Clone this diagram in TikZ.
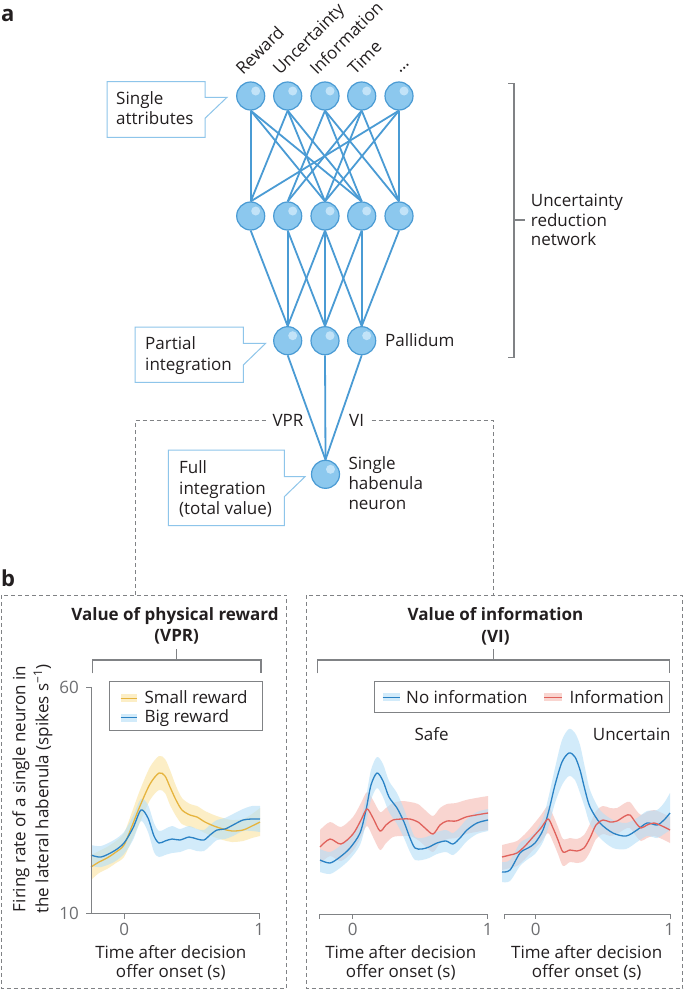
\documentclass[tikz,border=0pt]{standalone}
\usepackage{fontspec}
\setmainfont{Open Sans}
\definecolor{edgeblue}{HTML}{4A9BD4}
\definecolor{nodefill}{HTML}{8CC8EE}
\definecolor{nodeedge}{HTML}{4A9BD4}
\definecolor{nodehl}{HTML}{C2E3F8}
\definecolor{calloutc}{HTML}{8EC5EA}
\definecolor{txt}{HTML}{231F20}
\definecolor{graytxt}{HTML}{6D6E71}
\definecolor{bracketc}{HTML}{808285}
\definecolor{dashc}{HTML}{808285}
\definecolor{bluel}{HTML}{2A82C5}
\definecolor{blueband}{HTML}{B4DFF8}
\definecolor{yell}{HTML}{E6B43E}
\definecolor{yelband}{HTML}{FAE4A0}
\definecolor{redl}{HTML}{E0615B}
\definecolor{redband}{HTML}{F5B9B2}
\newcommand\myband[3]{\fill[#1, fill opacity=0.6] plot[smooth] coordinates {#2} -- plot[smooth] coordinates {#3} -- cycle;}
\begin{document}
\begin{tikzpicture}[x=1pt, y=-1pt,
  every node/.style={font=\fontsize{17}{20}\selectfont, text=txt, inner sep=0pt},
  neuron/.style={circle, minimum size=28pt, draw=nodeedge, line width=1.2pt, fill=nodefill,
    path picture={\fill[nodehl] ([xshift=5pt,yshift=5pt]path picture bounding box.center) circle (4.5pt);}},
  conn/.style={draw=edgeblue, line width=1.8pt},
  callbox/.style={draw=calloutc, line width=1pt, fill=white},
  dashline/.style={draw=dashc, line width=0.9pt, dash pattern=on 4pt off 3pt},
  brack/.style={draw=bracketc, line width=1.1pt},
  axisl/.style={draw=bracketc, line width=1pt},
  num/.style={text=graytxt},
  ttl/.style={font=\fontsize{17}{20}\selectfont\bfseries},
  lbl/.style={font=\fontsize{22}{24}\selectfont\bfseries}]
\useasboundingbox (0,0) rectangle (685,990);
\fill[white] (0,0) rectangle (685,990);

% panel labels
\node[lbl, anchor=base west] (pa) at (1,21.5) {a};
\node[lbl, anchor=base west] (pb) at (1,586) {b};

% neurons
\foreach \i/\x in {1/250.7,2/287.7,3/325,4/361.7,5/399}{
  \node[neuron] (t\i) at (\x,96) {};
  \node[neuron] (m\i) at (\x,216) {};
}
\node[neuron] (p1) at (287.7,340.7) {};
\node[neuron] (p2) at (325,340.7) {};
\node[neuron] (p3) at (361.7,340.7) {};
\node[neuron] (h) at (325.5,474.3) {};

% connections top -> middle
\foreach \a/\b in {1/1,1/3,1/4,2/1,2/3,2/4,3/2,3/4,3/5,4/2,4/3,4/5,5/1,5/3,5/5}{
  \draw[conn] (t\a.south) -- (m\b.north);
}
% middle -> pallidum
\foreach \a/\b in {1/1,2/1,2/2,3/1,3/2,3/3,4/2,4/3,5/3}{
  \draw[conn] (m\a.south) -- (p\b.north);
}
\foreach \a in {1,2,3}{ \draw[conn] (p\a.south) -- (h.north); }

% attribute labels
\node[anchor=base west, rotate=45] (lr) at (243,76) {Reward};
\node[anchor=base west, rotate=45] (lu) at (280,76) {Uncertainty};
\node[anchor=base west, rotate=45] (li) at (317,76) {Information};
\node[anchor=base west, rotate=45] (lt) at (355,76) {Time};
\node[anchor=base west, rotate=45] (ld) at (400,74) {...};

% callouts
\draw[callbox] (107,81.7) -- (205,81.7) -- (205,97.3) -- (227,97.3) -- (205,118.3) -- (205,137.3) -- (107,137.3) -- cycle;
\node[anchor=base west] (c1a) at (116,104.5) {Single};
\node[anchor=base west] (c1b) at (116,124.5) {attributes};

\draw[callbox] (135,327) -- (243.3,327) -- (243.3,343.3) -- (265.7,343.3) -- (243.3,365) -- (243.3,382.3) -- (135,382.3) -- cycle;
\node[anchor=base west] (c2a) at (145,349.5) {Partial};
\node[anchor=base west] (c2b) at (145,370) {integration};

\draw[callbox] (168.3,450) -- (284.3,450) -- (284.3,476.7) -- (305,476.7) -- (284.3,496.7) -- (284.3,525.7) -- (168.3,525.7) -- cycle;
\node[anchor=base west] (c3a) at (179,473.5) {Full};
\node[anchor=base west] (c3b) at (179,494) {integration};
\node[anchor=base west] (c3c) at (179,514) {(total value)};

\node[anchor=base west] (pal) at (385,346) {Pallidum};
\node[anchor=base west] (hab1) at (348.3,469) {Single};
\node[anchor=base west] (hab2) at (348.3,489.3) {habenula};
\node[anchor=base west] (hab3) at (348.3,509) {neuron};
\node[anchor=base west] (vpr) at (272.3,426) {VPR};
\node[anchor=base west] (vi) at (349,426) {VI};

% uncertainty reduction bracket
\draw[brack] (508.3,83.3) -- (514,83.3) -- (514,357.7) -- (508.3,357.7);
\draw[brack] (514,220) -- (525,220);
\node[anchor=base west] (ur1) at (530.7,206.7) {Uncertainty};
\node[anchor=base west] (ur2) at (530.7,226.7) {reduction};
\node[anchor=base west] (ur3) at (530.7,245.7) {network};

% dashed frames
\draw[dashline] (135,595) -- (135,420.7) -- (266.7,420.7);
\draw[dashline] (371.7,420.7) -- (493.3,420.7) -- (493.3,595);
\draw[dashline] (1.5,595) rectangle (286.5,988.5);
\draw[dashline] (306,595) rectangle (682.5,988.5);

% ---------- panel b left ----------
\node[ttl, anchor=base] (vt1) at (175,620) {Value of physical reward};
\node[ttl, anchor=base] (vt2) at (176.7,641.7) {(VPR)};
\draw[brack] (176.7,649.3) -- (176.7,660);
\draw[brack] (92.7,673.3) -- (92.7,660) -- (261,660) -- (261,673.3);

% legend left
\draw[axisl] (109.3,681.7) rectangle (262.7,730.7);
\fill[yelband, fill opacity=0.6] (120.7,694.3) rectangle (137.3,702.3);
\draw[yell, line width=1.3pt] (120.7,698.3) -- (137.3,698.3);
\fill[blueband, fill opacity=0.6] (120.7,713.5) rectangle (137.3,721.5);
\draw[bluel, line width=1.3pt] (120.7,717.5) -- (137.3,717.5);
\node[anchor=base west] (lg1) at (144.3,703.5) {Small reward};
\node[anchor=base west] (lg2) at (144.3,722) {Big reward};

% bands left
\myband{yelband}{(91,855) (99,851) (107,847) (116,841) (124,833) (132,812) (140,790) (150,767) (159,756) (165,759) (170,770) (176,786) (182,798) (190,804) (197,806) (205,811) (214,815) (223,818) (232,820) (243,819) (252,814) (260,808)}{(260,836) (252,838) (243,841) (232,842) (223,840) (214,837) (205,833) (197,829) (190,827) (182,824) (176,816) (170,805) (165,793) (159,790) (150,800) (140,822) (132,840) (124,857) (116,863) (107,869) (99,873) (91,880)}
\myband{blueband}{(91,845) (101,846) (114,840) (124,832) (133,816) (141,799) (148,805) (154,823) (159,831) (165,829) (172,826) (180,829) (189,826) (197,829) (204,830) (210,825) (217,820) (225,818) (233,814) (243,809) (252,806) (260,806)}{(260,832) (252,831) (243,831) (233,836) (225,839) (217,840) (210,846) (204,851) (197,851) (189,849) (180,852) (172,853) (165,855) (159,857) (154,852) (148,832) (141,821) (133,840) (124,854) (114,862) (101,867) (91,866)}
\draw[yell, line width=1.3pt] plot[smooth] coordinates {(91,867) (99,862) (107,858) (116,852) (124,845) (132,826) (140,806) (150,784) (159,773) (165,776) (170,787) (176,800) (182,810) (190,815) (197,817) (205,822) (214,826) (223,829) (232,831) (243,830) (252,826) (260,822)};
\draw[bluel, line width=1.3pt] plot[smooth] coordinates {(91,855) (101,857) (114,851) (124,843) (133,828) (141,810) (148,818) (154,836) (159,843) (165,841) (172,839) (180,840) (189,837) (197,839) (204,840) (210,835) (217,830) (225,829) (233,825) (243,820) (252,819) (260,819)};

% axes left
\coordinate (ya) at (91,687.7);
\coordinate (yb) at (91,913.3);
\coordinate (xb) at (259.3,913.3);
\draw[axisl] (86,687.7) -- (ya) -- (yb) -- (xb) -- (259.3,919);
\draw[axisl] (86,913.3) -- (yb);
\draw[axisl] (124.3,913.3) -- (124.3,919);
\node[num, anchor=east] (n60) at (79,687.7) {60};
\node[num, anchor=east] (n10) at (79,913.3) {10};
\node[num, anchor=base] (x0a) at (124.3,935.7) {0};
\node[num, anchor=base] (x1a) at (259.3,935.7) {1};
\node[anchor=base] (xl1a) at (170.8,958.3) {Time after decision};
\node[anchor=base] (xl2a) at (170.8,977.3) {offer onset (s)};
\node[rotate=90] (yl1) at (21,789) {Firing rate of a single neuron in};
\node[rotate=90] (yl2) at (43,789) {the lateral habenula (spikes s\textsuperscript{\char"2212 1})};

% ---------- panel b right ----------
\node[ttl, anchor=base] (it1) at (495.5,620.7) {Value of information};
\node[ttl, anchor=base] (it2) at (495.5,642.7) {(VI)};
\draw[brack] (493.3,649.3) -- (493.3,660);
\draw[brack] (317.3,673.3) -- (317.3,660) -- (669.3,660) -- (669.3,673.3);

\draw[axisl] (374,681.7) rectangle (669.3,712.3);
\fill[blueband, fill opacity=0.6] (382.7,693.3) rectangle (400,701.3);
\draw[bluel, line width=1.3pt] (382.7,697.3) -- (400,697.3);
\fill[redband, fill opacity=0.6] (544.3,693.3) rectangle (561.7,701.3);
\draw[redl, line width=1.3pt] (544.3,697.3) -- (561.7,697.3);
\node[anchor=base west] (lg3) at (406,703.5) {No information};
\node[anchor=base west] (lg4) at (569.3,703.5) {Information};

\node[anchor=base] (safe) at (431.7,740.7) {Safe};
\node[anchor=base] (unc) at (631.7,740.7) {Uncertain};

% safe bands
\myband{redband}{(320,830) (330,822) (341,827) (353,817) (361,803) (367,792) (373,800) (380,812) (386,808) (393,803) (402,801) (410,802) (418,804) (425,810) (433,816) (440,808) (447,804) (456,803) (466,800) (476,798) (488,796)}{(488,830) (476,832) (466,834) (456,838) (447,839) (440,843) (433,852) (425,846) (418,840) (410,836) (402,836) (393,837) (386,843) (380,850) (373,837) (367,826) (361,837) (353,851) (341,861) (330,856) (320,864)}
\myband{blueband}{(320,849) (330,852) (340,846) (350,837) (360,821) (366,797) (371,770) (377,757) (383,764) (389,781) (397,793) (404,809) (410,826) (415,837) (422,838) (429,836) (437,832) (446,830) (453,833) (460,827) (467,819) (477,812) (488,809)}{(488,831) (477,834) (467,841) (460,849) (453,855) (446,852) (437,854) (429,858) (422,860) (415,860) (410,852) (404,838) (397,824) (389,812) (383,797) (377,788) (371,800) (366,823) (360,845) (350,859) (340,868) (330,874) (320,872)}
\draw[bluel, line width=1.3pt] plot[smooth] coordinates {(320,860) (330,863) (340,857) (350,848) (360,833) (366,810) (371,785) (377,773) (383,781) (389,797) (397,808) (404,822) (410,838) (415,848) (422,849) (429,847) (437,843) (446,841) (453,844) (460,838) (467,830) (477,823) (488,820)};
\draw[redl, line width=1.3pt] plot[smooth] coordinates {(320,847) (330,839) (341,844) (353,834) (361,820) (367,809) (373,818) (380,831) (386,825) (393,820) (402,819) (410,819) (418,822) (425,828) (433,834) (440,825) (447,821) (456,821) (466,817) (476,815) (488,813)};

% uncertain bands
\myband{redband}{(502,845) (510,843) (517,841) (525,834) (533,825) (541,815) (548,806) (553,815) (558,827) (563,839) (570,838) (577,839) (584,835) (590,824) (596,811) (603,806) (610,808) (617,808) (625,803) (630,802) (636,810) (641,815) (647,812) (654,810) (662,813) (670,817)}{(670,843) (662,839) (654,836) (647,838) (641,841) (636,836) (630,828) (625,829) (617,834) (610,836) (603,834) (596,839) (590,852) (584,861) (577,863) (570,862) (563,866) (558,854) (553,842) (548,833) (541,842) (533,850) (525,859) (517,866) (510,868) (502,870)}
\myband{blueband}{(502,862) (510,860) (520,843) (528,838) (535,832) (543,818) (549,795) (555,768) (562,740) (569,729) (575,733) (580,745) (585,768) (590,790) (600,810) (613,820) (626,823) (637,818) (647,811) (657,810) (664,803) (670,793)}{(670,830) (664,834) (657,838) (647,836) (637,842) (626,849) (613,848) (600,838) (590,824) (585,808) (580,793) (575,780) (569,776) (562,785) (555,803) (549,825) (543,842) (535,854) (528,859) (520,866) (510,881) (502,882)}
\draw[bluel, line width=1.3pt] plot[smooth] coordinates {(502,872) (510,870) (520,853) (528,848) (535,843) (543,830) (549,810) (555,785) (562,762) (569,753) (575,757) (580,770) (585,790) (590,807) (600,823) (613,833) (626,836) (637,830) (647,823) (657,825) (664,820) (670,813)};
\draw[redl, line width=1.3pt] plot[smooth] coordinates {(502,857) (510,855) (517,853) (525,846) (533,837) (541,828) (548,819) (553,828) (558,840) (563,852) (570,850) (577,851) (584,848) (590,838) (596,825) (603,820) (610,822) (617,821) (625,816) (630,815) (636,823) (641,828) (647,825) (654,823) (662,826) (670,830)};

% right axes
\draw[axisl] (319,919) -- (319,914) -- (487.7,914) -- (487.7,919);
\draw[axisl] (352.7,914) -- (352.7,919);
\draw[axisl] (504,919) -- (504,914) -- (670,914) -- (670,919);
\draw[axisl] (535.7,914) -- (535.7,919);
\node[num, anchor=base] (x0b) at (352.7,935.7) {0};
\node[num, anchor=base] (x1b) at (487.7,935.7) {1};
\node[num, anchor=base] (x0c) at (535.7,935.7) {0};
\node[num, anchor=base] (x1c) at (669.3,935.7) {1};
\node[anchor=base] (xl1b) at (400.8,958.3) {Time after decision};
\node[anchor=base] (xl2b) at (400.8,977.3) {offer onset (s)};
\node[anchor=base] (xl1c) at (586.7,958.3) {Time after decision};
\node[anchor=base] (xl2c) at (586.7,977.3) {offer onset (s)};
\end{tikzpicture}
\end{document}
